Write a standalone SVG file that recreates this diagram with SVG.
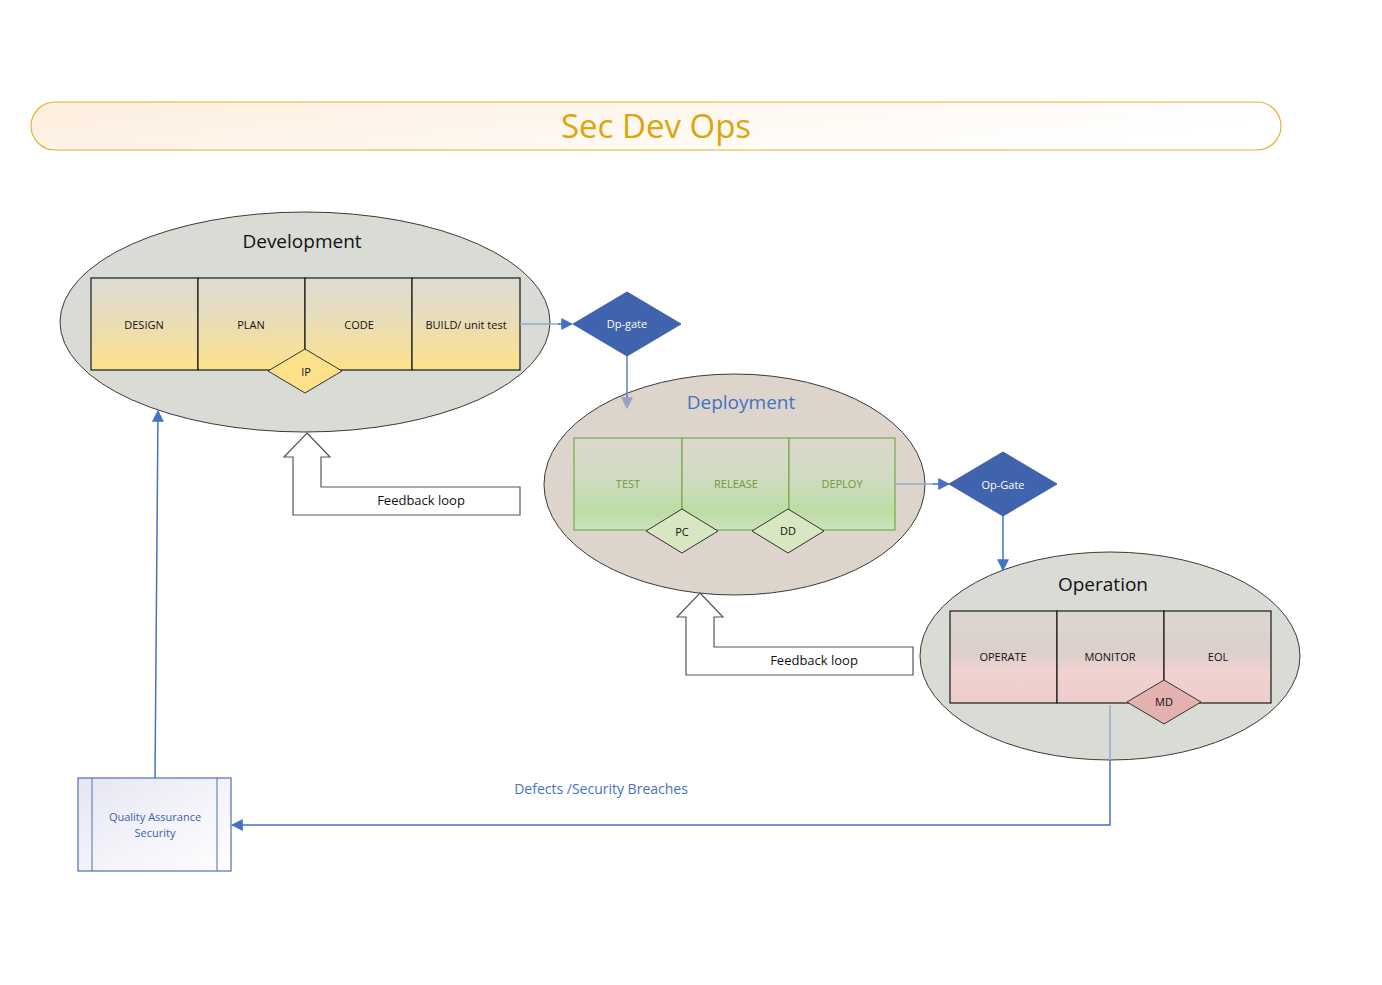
<svg xmlns="http://www.w3.org/2000/svg" width="1382" height="985" viewBox="0 0 1382 985">
<defs>
<style>
text{font-family:"Open Sans","Noto Sans","Liberation Sans",sans-serif;text-anchor:middle;dominant-baseline:central}
.ell{stroke:#3a3a3a;stroke-width:1}
.cell{stroke:#1a1a1a;stroke-width:1.2}
.gcell{stroke:#77a84f;stroke-width:1.2}
.lab{font-size:11px;fill:#111}
.glab{font-size:11px;fill:#6e9a3c}
.head{font-size:19px;fill:#111}
.gate{fill:#3f63ac;stroke:#3f63ac}
.gtxt{font-size:11px;fill:#fff}
.dia{stroke:#333;stroke-width:1}
.conn{fill:none;stroke:#4472c4;stroke-width:1.5}
.fb{fill:#fff;stroke:#555;stroke-width:1.2}
.fbt{font-size:13px;fill:#111}
</style>
<linearGradient id="gTitle" x1="0" y1="0" x2="1" y2="0.3">
<stop offset="0" stop-color="#fdeedd"/><stop offset="1" stop-color="#ffffff"/>
</linearGradient>
<linearGradient id="gDev" x1="0" y1="0" x2="0" y2="1">
<stop offset="0" stop-color="#dcdcd2"/><stop offset="0.35" stop-color="#e6dcc0"/><stop offset="1" stop-color="#fde18c"/>
</linearGradient>
<linearGradient id="gDep" x1="0" y1="0" x2="0" y2="1">
<stop offset="0" stop-color="#ddd8cc"/><stop offset="0.45" stop-color="#cfdcc0"/><stop offset="0.8" stop-color="#bcdca4"/><stop offset="1" stop-color="#cde4bc"/>
</linearGradient>
<linearGradient id="gOp" x1="0" y1="0" x2="0" y2="1">
<stop offset="0" stop-color="#dbd6d0"/><stop offset="0.45" stop-color="#dccfcc"/><stop offset="0.65" stop-color="#f0d2d0"/><stop offset="1" stop-color="#edcdcb"/>
</linearGradient>
<linearGradient id="gQA" x1="0" y1="0" x2="1" y2="1">
<stop offset="0" stop-color="#e6e6f3"/><stop offset="1" stop-color="#ffffff"/>
</linearGradient>
<marker id="arr" viewBox="0 0 10 10" refX="9" refY="5" markerWidth="12" markerHeight="12" markerUnits="userSpaceOnUse" orient="auto">
<path d="M0,0 L10,5 L0,10 z" fill="#4472c4"/>
</marker>
<marker id="arrG" viewBox="0 0 10 10" refX="9" refY="5" markerWidth="12" markerHeight="12" markerUnits="userSpaceOnUse" orient="auto">
<path d="M0,0 L10,5 L0,10 z" fill="#9aa3c4"/>
</marker>
</defs>

<g id="title">
<rect x="31" y="102" width="1250" height="48" rx="24" ry="24" fill="url(#gTitle)" stroke="#e2b236" stroke-width="1.2"/>
<text x="656" y="125" style="font-size:33px;fill:#dda50a">Sec Dev Ops</text>
</g>

<g id="development">
<ellipse class="ell" cx="305" cy="322" rx="245" ry="110" fill="#d9dbd5"/>
<text class="head" x="302" y="241">Development</text>
<rect class="cell" x="91" y="278" width="107" height="92" fill="url(#gDev)"/>
<rect class="cell" x="198" y="278" width="107" height="92" fill="url(#gDev)"/>
<rect class="cell" x="305" y="278" width="107" height="92" fill="url(#gDev)"/>
<rect class="cell" x="412" y="278" width="108" height="92" fill="url(#gDev)"/>
<text class="lab" x="144" y="324">DESIGN</text>
<text class="lab" x="251" y="324">PLAN</text>
<text class="lab" x="359" y="324">CODE</text>
<text class="lab" x="466" y="324">BUILD/ unit test</text>
<g id="ip">
<polygon class="dia" points="305,349 342,371 305,393 268,371" fill="#fde08a"/>
<text class="lab" x="306" y="371">IP</text>
</g>
</g>

<g id="dp-gate">
<polygon class="gate" points="627,292 681,324 627,356 573,324"/>
<text class="gtxt" x="627" y="323">Dp-gate</text>
</g>

<g id="deployment">
<ellipse class="ell" cx="734.5" cy="484.5" rx="190.5" ry="110.5" fill="#ddd4cb"/>
<text x="741" y="402" style="font-size:19px;fill:#4472c4">Deployment</text>
<rect class="gcell" x="574" y="438" width="108" height="92" fill="url(#gDep)"/>
<rect class="gcell" x="682" y="438" width="107" height="92" fill="url(#gDep)"/>
<rect class="gcell" x="789" y="438" width="106" height="92" fill="url(#gDep)"/>
<text class="glab" x="628" y="483">TEST</text>
<text class="glab" x="736" y="483">RELEASE</text>
<text class="glab" x="842" y="483">DEPLOY</text>
<g id="pc">
<polygon class="dia" points="682,509 718,531 682,553 646,531" fill="#d8e6c2"/>
<text class="lab" x="682" y="531">PC</text>
</g>
<g id="dd">
<polygon class="dia" points="788,509 824,531 788,553 752,531" fill="#d8e6c2"/>
<text class="lab" x="788" y="530">DD</text>
</g>
</g>

<g id="op-gate">
<polygon class="gate" points="1003,452 1057,484 1003,516 949,484"/>
<text class="gtxt" x="1003" y="484">Op-Gate</text>
</g>

<g id="operation">
<ellipse class="ell" cx="1110" cy="656" rx="190" ry="104" fill="#d9dbd5"/>
<text class="head" x="1103" y="584">Operation</text>
<rect class="cell" x="950" y="611" width="107" height="92" fill="url(#gOp)"/>
<rect class="cell" x="1057" y="611" width="107" height="92" fill="url(#gOp)"/>
<rect class="cell" x="1164" y="611" width="107" height="92" fill="url(#gOp)"/>
<text class="lab" x="1003" y="656">OPERATE</text>
<text class="lab" x="1110" y="656">MONITOR</text>
<text class="lab" x="1218" y="656">EOL</text>
<g id="md">
<polygon class="dia" points="1164,680 1201,702 1164,724 1127,702" fill="#e3b1ae"/>
<text class="lab" x="1164" y="701">MD</text>
</g>
</g>

<g id="feedback-dev">
<polygon class="fb" points="307,433 330,457 321,457 321,487 520,487 520,515 293,515 293,457 284,457"/>
<text class="fbt" x="421" y="500">Feedback loop</text>
</g>

<g id="feedback-dep">
<polygon class="fb" points="700,593 723,617 714,617 714,647 913,647 913,675 686,675 686,617 677,617"/>
<text class="fbt" x="814" y="660">Feedback loop</text>
</g>

<g id="qa">
<rect x="78" y="778" width="153" height="93" fill="url(#gQA)" stroke="#4f6fb5" stroke-width="1.2"/>
<line x1="92" y1="778" x2="92" y2="871" stroke="#4f6fb5" stroke-width="1"/>
<line x1="217" y1="778" x2="217" y2="871" stroke="#4f6fb5" stroke-width="1"/>
<text x="155" y="816" style="font-size:11px;fill:#4060b0">Quality Assurance</text>
<text x="155" y="832" style="font-size:11px;fill:#4060b0">Security</text>
</g>

<g id="connectors">
<line x1="520" y1="324" x2="560" y2="324" stroke="#8fa8d8" stroke-width="1.5"/>
<line x1="558" y1="324" x2="572" y2="324" class="conn" marker-end="url(#arr)"/>
<line x1="627" y1="356" x2="627" y2="408" stroke="#5b7fc4" stroke-width="1.5" marker-end="url(#arrG)"/>
<line x1="895" y1="484" x2="935" y2="484" stroke="#8fa8d8" stroke-width="1.5"/>
<line x1="933" y1="484" x2="949" y2="484" class="conn" marker-end="url(#arr)"/>
<line x1="1003" y1="516" x2="1003" y2="570" class="conn" marker-end="url(#arr)"/>
<line x1="155" y1="778" x2="158" y2="411" class="conn" marker-end="url(#arr)"/>
<line x1="1110" y1="705" x2="1110" y2="760" stroke="#9aa8c8" stroke-width="1.5"/>
<polyline points="1110,760 1110,825 232,825" class="conn" marker-end="url(#arr)"/>
<text x="601" y="788" style="font-size:14px;fill:#4472c4">Defects /Security Breaches</text>
</g>
</svg>
